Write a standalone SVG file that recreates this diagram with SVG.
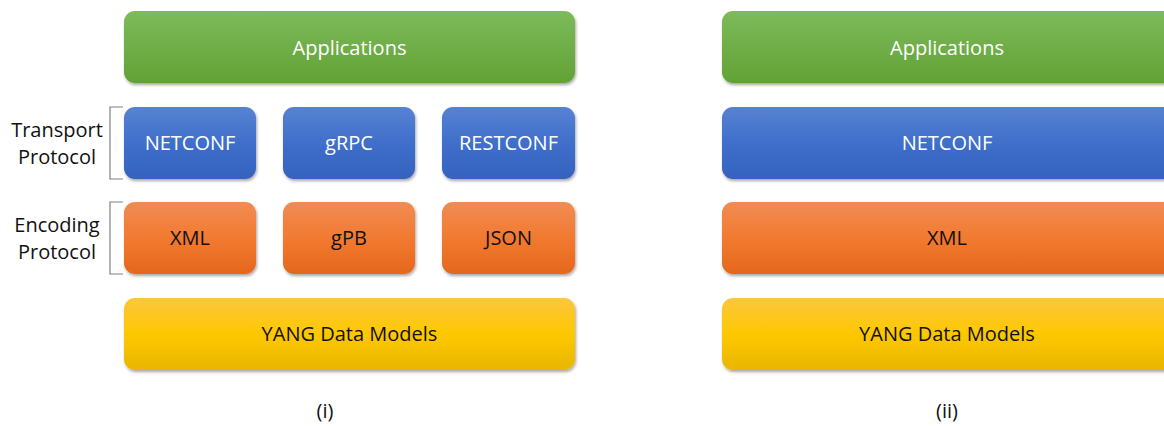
<svg xmlns="http://www.w3.org/2000/svg" width="1164" height="426" viewBox="0 0 1164 426">
<style>
.t{font-family:"Open Sans","Liberation Sans",Arial,sans-serif;font-size:20px;text-anchor:middle}
.w{fill:#ffffff}
.k{fill:#111111}
.br{fill:none;stroke:#808080;stroke-width:1.2}
</style>
<defs>
<linearGradient id="gG" x1="0" y1="0" x2="0" y2="1"><stop offset="0" stop-color="#7dba5c"/><stop offset="1" stop-color="#62a234"/></linearGradient>
<linearGradient id="gB" x1="0" y1="0" x2="0" y2="1"><stop offset="0" stop-color="#5882d2"/><stop offset="0.5" stop-color="#3f6fcb"/><stop offset="1" stop-color="#3462bd"/></linearGradient>
<linearGradient id="gO" x1="0" y1="0" x2="0" y2="1"><stop offset="0" stop-color="#f18c54"/><stop offset="0.5" stop-color="#f27a30"/><stop offset="1" stop-color="#e4671c"/></linearGradient>
<linearGradient id="gY" x1="0" y1="0" x2="0" y2="1"><stop offset="0" stop-color="#fcc63f"/><stop offset="0.5" stop-color="#fec800"/><stop offset="1" stop-color="#e9b600"/></linearGradient>
<filter id="sh" x="-5%" y="-10%" width="110%" height="130%"><feDropShadow dx="1" dy="2" stdDeviation="1.5" flood-color="#000" flood-opacity="0.35"/></filter>
</defs>

<g id="left-applications"><rect x="124" y="11" width="451" height="72" rx="11" fill="url(#gG)" filter="url(#sh)"/><text class="t w" x="349.5" y="55">Applications</text></g>
<g id="left-netconf"><rect x="124" y="107" width="132" height="72" rx="11" fill="url(#gB)" filter="url(#sh)"/><text class="t w" x="190" y="150">NETCONF</text></g>
<g id="left-grpc"><rect x="283" y="107" width="132" height="72" rx="11" fill="url(#gB)" filter="url(#sh)"/><text class="t w" x="349" y="150">gRPC</text></g>
<g id="left-restconf"><rect x="442" y="107" width="133" height="72" rx="11" fill="url(#gB)" filter="url(#sh)"/><text class="t w" x="508.5" y="150">RESTCONF</text></g>
<g id="left-xml"><rect x="124" y="202" width="132" height="72" rx="11" fill="url(#gO)" filter="url(#sh)"/><text class="t k" x="190" y="245">XML</text></g>
<g id="left-gpb"><rect x="283" y="202" width="132" height="72" rx="11" fill="url(#gO)" filter="url(#sh)"/><text class="t k" x="349" y="245">gPB</text></g>
<g id="left-json"><rect x="442" y="202" width="133" height="72" rx="11" fill="url(#gO)" filter="url(#sh)"/><text class="t k" x="508.5" y="245">JSON</text></g>
<g id="left-yang"><rect x="124" y="298" width="451" height="72" rx="11" fill="url(#gY)" filter="url(#sh)"/><text class="t k" x="349.5" y="341">YANG Data Models</text></g>

<g id="transport-label"><path class="br" d="M123,107 H110 V179 H123"/><text class="t k" x="57" y="137">Transport</text><text class="t k" x="57" y="164">Protocol</text></g>
<g id="encoding-label"><path class="br" d="M123,202 H110 V274 H123"/><text class="t k" x="57" y="232">Encoding</text><text class="t k" x="57" y="259">Protocol</text></g>

<g id="right-applications"><rect x="722" y="11" width="460" height="72" rx="11" fill="url(#gG)" filter="url(#sh)"/><text class="t w" x="947" y="55">Applications</text></g>
<g id="right-netconf"><rect x="722" y="107" width="460" height="72" rx="11" fill="url(#gB)" filter="url(#sh)"/><text class="t w" x="947" y="150">NETCONF</text></g>
<g id="right-xml"><rect x="722" y="202" width="460" height="72" rx="11" fill="url(#gO)" filter="url(#sh)"/><text class="t k" x="947" y="245">XML</text></g>
<g id="right-yang"><rect x="722" y="298" width="460" height="72" rx="11" fill="url(#gY)" filter="url(#sh)"/><text class="t k" x="947" y="341">YANG Data Models</text></g>

<g id="connectors"></g>

<text class="t k" x="325" y="418">(i)</text>
<text class="t k" x="947" y="418">(ii)</text>
</svg>
